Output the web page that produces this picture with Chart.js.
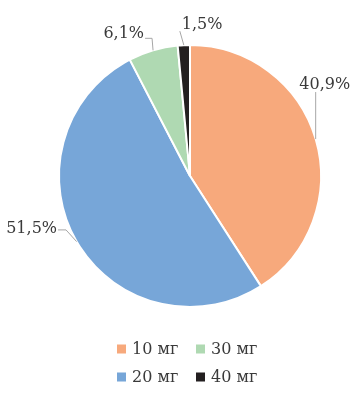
<!DOCTYPE html>
<html><head><meta charset="utf-8">
<script src="https://cdn.jsdelivr.net/npm/chart.js@4.4.1/dist/chart.umd.min.js"></script>
<style>html,body{margin:0;padding:0;background:#fff}</style>
</head><body>
<canvas id="c" width="360" height="397"></canvas>
<script>
const categories = ['10 мг', '20 мг', '30 мг', '40 мг'];
const shares = [40.9, 51.5, 6.1, 1.5];
const colors = ['#F7A97C', '#77A6D8', '#AFD9B2', '#231F20'];

const FONT = '16px "DejaVu Serif", serif';
const TEXT = '#3a3a3a';

// label placement relative to each slice's outer mid-point (style info)
const labelLayout = [
  {ex: 0, ey: -47, hx: 0, align: 'center', dx: 9, dy: -3},
  {ex: -10.6, ey: -11.7, hx: -8, align: 'right', dx: -1, dy: 3.5},
  {ex: -1, ey: -12, hx: -7, align: 'right', dx: -1, dy: 0},
  {ex: -4, ey: -14, hx: 0, align: 'left', dx: 2, dy: -2}
];

const fmt = v => v.toFixed(1).replace('.', ',') + '%';

const labelPlugin = {
  id: 'outLabels',
  afterDatasetsDraw(chart) {
    const ctx = chart.ctx;
    const meta = chart.getDatasetMeta(0);
    ctx.save();
    ctx.font = FONT;
    ctx.textBaseline = 'alphabetic';
    meta.data.forEach((arc, i) => {
      const p = arc.getProps(['x', 'y', 'startAngle', 'endAngle', 'outerRadius'], true);
      const a = (p.startAngle + p.endAngle) / 2;
      const ax = p.x + p.outerRadius * Math.cos(a);
      const ay = p.y + p.outerRadius * Math.sin(a);
      const L = labelLayout[i];
      const ex = ax + L.ex, ey = ay + L.ey;
      const hx = ex + L.hx;
      ctx.strokeStyle = '#a6a6a6';
      ctx.lineWidth = 1;
      ctx.beginPath();
      ctx.moveTo(ax, ay);
      ctx.lineTo(ex, ey);
      if (L.hx) ctx.lineTo(hx, ey);
      ctx.stroke();
      ctx.fillStyle = TEXT;
      ctx.textAlign = L.align;
      ctx.fillText(fmt(shares[i]), hx + L.dx, ey + L.dy);
    });
    ctx.restore();
  }
};

const legendPlugin = {
  id: 'gridLegend',
  afterDraw(chart) {
    const ctx = chart.ctx;
    const rows = 2;
    const colX = [117, 196];
    const rowY = [349, 377];
    ctx.save();
    ctx.font = FONT;
    ctx.textBaseline = 'middle';
    ctx.textAlign = 'left';
    categories.forEach((c, i) => {
      const col = Math.floor(i / rows), row = i % rows;
      const x = colX[col], y = rowY[row];
      ctx.fillStyle = colors[i];
      ctx.fillRect(x, y - 4.5, 9, 9);
      ctx.fillStyle = TEXT;
      ctx.fillText(c, x + 15, y + 1);
    });
    ctx.restore();
  }
};

new Chart(document.getElementById('c'), {
  type: 'pie',
  data: {
    labels: categories,
    datasets: [{
      data: shares,
      backgroundColor: colors,
      borderColor: '#ffffff',
      borderWidth: 2
    }]
  },
  options: {
    responsive: false,
    devicePixelRatio: 1,
    animation: false,
    layout: {padding: {left: 58, right: 38, top: 44, bottom: 89}},
    plugins: {legend: {display: false}, tooltip: {enabled: false}}
  },
  plugins: [labelPlugin, legendPlugin]
});
</script>
</body></html>
